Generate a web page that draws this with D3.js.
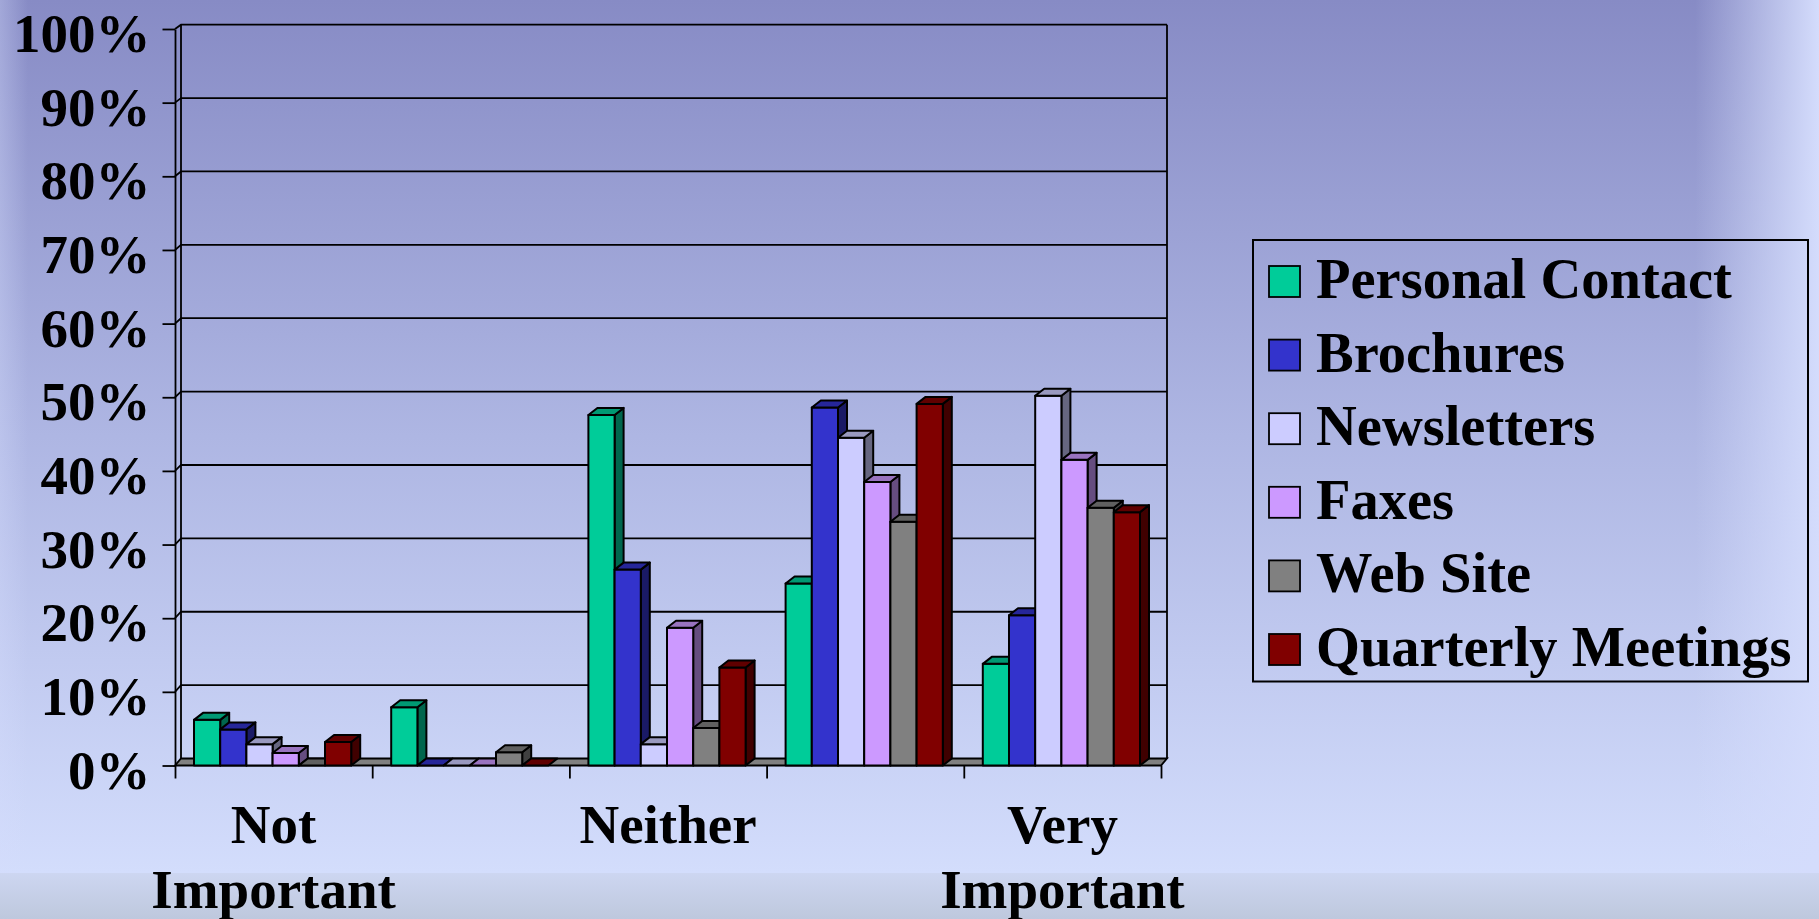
<!DOCTYPE html>
<html>
<head>
<meta charset="utf-8">
<style>
  body { margin: 0; }
  svg { display: block; }
  text {
    font-family: 'Liberation Serif', 'Times New Roman', serif;
    font-weight: bold;
    fill: #000;
  }
  .axis .tick line, .axis .domain { stroke: #000; stroke-width: 1.8; }
</style>
</head>
<body>
<svg width="1819" height="919"></svg>
<script src="https://d3js.org/d3.v7.min.js"></script>
<script>
// data (percent of respondents)
var categories = [["Not", "Important"], [], ["Neither"], [], ["Very", "Important"]];
var series = ["Personal Contact", "Brochures", "Newsletters", "Faxes", "Web Site", "Quarterly Meetings"];
var personalContact   = [6.2, 7.9, 47.6, 24.7, 13.8];
var brochures         = [4.9, 0, 26.6, 48.6, 20.4];
var newsletters       = [2.9, 0, 2.9, 44.5, 50.2];
var faxes             = [1.7, 0, 18.7, 38.5, 41.5];
var webSite           = [0, 1.8, 5.1, 33.1, 35.0];
var quarterlyMeetings = [3.2, 0, 13.3, 49.1, 34.4];
var yTicks = [0, 10, 20, 30, 40, 50, 60, 70, 80, 90, 100];

var values = [personalContact, brochures, newsletters, faxes, webSite, quarterlyMeetings];
var fronts = ["#00CC99", "#3333CC", "#CCCCFF", "#CC99FF", "#808080", "#800000"];

var svg = d3.select("svg"),
    W = +svg.attr("width"), H = +svg.attr("height");

// plot geometry: front plane and depth offset of the walls / bars
var left = 175, right = 1161, base = 765.5;
var wallDx = 6, wallDy = 7;
var barDx = 9, barDy = 7;

// background
var defs = svg.append("defs");
var bg = defs.append("linearGradient").attr("id", "bg").attr("x1", 0).attr("y1", 0).attr("x2", 0).attr("y2", 1);
bg.append("stop").attr("offset", 0).attr("stop-color", "#878bc5");
bg.append("stop").attr("offset", 0.5).attr("stop-color", "#aeb6e3");
bg.append("stop").attr("offset", 1).attr("stop-color", "#d3ddfc");
var bot = defs.append("linearGradient").attr("id", "bot").attr("x1", 0).attr("y1", 0).attr("x2", 0).attr("y2", 1);
bot.append("stop").attr("offset", 0).attr("stop-color", "#cdd6f1");
bot.append("stop").attr("offset", 1).attr("stop-color", "#bec8dd");
var edgeR = defs.append("linearGradient").attr("id", "edgeR");
edgeR.append("stop").attr("offset", 0).attr("stop-color", "#d4dcfc").attr("stop-opacity", 0);
edgeR.append("stop").attr("offset", 1).attr("stop-color", "#d4dcfc").attr("stop-opacity", 1);
var edgeL = defs.append("linearGradient").attr("id", "edgeL");
edgeL.append("stop").attr("offset", 0).attr("stop-color", "#d4dcfc").attr("stop-opacity", 0.35);
edgeL.append("stop").attr("offset", 1).attr("stop-color", "#d4dcfc").attr("stop-opacity", 0);

svg.append("rect").attr("width", W).attr("height", 873).attr("fill", "url(#bg)");
svg.append("rect").attr("y", 873).attr("width", W).attr("height", H - 873).attr("fill", "url(#bot)");
svg.append("rect").attr("x", 1695).attr("width", W - 1695).attr("height", 873).attr("fill", "url(#edgeR)");
svg.append("rect").attr("width", 28).attr("height", 873).attr("fill", "url(#edgeL)");

// scales
var y = d3.scaleLinear().domain([0, 100]).range([base, 29]);
var yBack = d3.scaleLinear().domain([0, 100]).range([base - wallDy, 24.7]);
var x0 = d3.scaleBand().domain(d3.range(categories.length)).range([left, right]);
var x1 = d3.scaleBand().domain(series).range([19, x0.bandwidth() - 21]);
var xb = d3.scaleLinear().domain([0, categories.length]).range([left, right]);

var g = svg.append("g");

// back wall gridlines and side wall edges
g.selectAll(".grid").data(yTicks.slice(1)).enter().append("path")
    .attr("fill", "none").attr("stroke", "#000").attr("stroke-width", 1.8)
    .attr("d", function(d) {
      return "M" + left + "," + y(d) + "L" + (left + wallDx) + "," + yBack(d) + "H" + (right + wallDx);
    });
g.append("path").attr("fill", "none").attr("stroke", "#000").attr("stroke-width", 1.8)
    .attr("d", "M" + (left + wallDx) + "," + yBack(0) + "V" + yBack(100)
      + "M" + (right + wallDx) + "," + yBack(0) + "V" + yBack(100));

// floor
g.append("path").attr("fill", "#808080").attr("stroke", "#000").attr("stroke-width", 1.8)
    .attr("d", "M" + left + "," + base + "H" + right + "L" + (right + wallDx) + "," + (base - wallDy)
      + "H" + (left + wallDx) + "Z");

// y axis on the front edge
g.append("g").attr("class", "axis")
    .attr("transform", "translate(" + left + ",0)")
    .call(d3.axisLeft(y).tickValues(yTicks).tickSize(12.5).tickSizeOuter(0).tickPadding(12)
      .tickFormat(function(d) { return d + "%"; }))
  .call(function(a) {
    a.selectAll("text").attr("font-size", 55).attr("dy", "0.41em")
      .style("font-family", "'Liberation Serif', serif").style("font-weight", "bold");
  });

// x axis ticks at category boundaries
g.append("g").attr("class", "axis")
    .attr("transform", "translate(0," + base + ")")
    .call(d3.axisBottom(xb).tickValues(d3.range(categories.length + 1)).tickSize(13).tickFormat(""))
  .call(function(a) { a.select(".domain").remove(); });

// category labels
var lab = g.selectAll(".cat").data(categories).enter().append("text")
    .attr("text-anchor", "middle").attr("font-size", 55);
lab.selectAll("tspan").data(function(d, i) { return d.map(function(t) { return {t: t, i: i}; }); })
  .enter().append("tspan")
    .attr("x", function(d) { return x0(d.i) + x0.bandwidth() / 2; })
    .attr("y", function(d, k) { return 843 + k * 65; })
    .text(function(d) { return d.t; });

// 3d columns
function shade(c, k) {
  var r = d3.rgb(c);
  return d3.rgb(r.r * k, r.g * k, r.b * k) + "";
}

var bars = [];
categories.forEach(function(c, i) {
  series.forEach(function(s, j) {
    bars.push({cat: i, key: s, value: values[j][i], color: fronts[j]});
  });
});

var bar = g.append("g").selectAll("g").data(bars).enter().append("g")
    .attr("stroke", "#000").attr("stroke-width", 2).attr("stroke-linejoin", "round");

bar.each(function(d) {
  var el = d3.select(this),
      xf = x0(d.cat) + x1(d.key), w = x1.bandwidth(),
      yt = y(d.value), yb = y(0);
  if (d.value > 0) {
    el.append("path").attr("fill", shade(d.color, 0.5))
      .attr("d", "M" + (xf + w) + "," + yt + "l" + barDx + "," + (-barDy) + "V" + (yb - barDy)
        + "l" + (-barDx) + "," + barDy + "Z");
    el.append("rect").attr("x", xf).attr("y", yt).attr("width", w).attr("height", yb - yt)
      .attr("fill", d.color);
  }
  el.append("path").attr("fill", shade(d.color, 0.75))
    .attr("d", "M" + xf + "," + yt + "l" + barDx + "," + (-barDy) + "h" + w + "l" + (-barDx) + "," + barDy + "Z");
});

// legend
var lg = svg.append("g");
lg.append("rect").attr("x", 1253).attr("y", 240).attr("width", 555).attr("height", 441.5)
    .attr("fill", "none").attr("stroke", "#000").attr("stroke-width", 2);
var item = lg.selectAll(".item").data(series).enter().append("g")
    .attr("transform", function(d, i) { return "translate(1269," + (266 + i * 73.6) + ")"; });
item.append("rect").attr("width", 31).attr("height", 31)
    .attr("fill", function(d, i) { return fronts[i]; })
    .attr("stroke", "#000").attr("stroke-width", 1.8);
item.append("text").attr("x", 47).attr("y", 32).attr("font-size", 56.5)
    .text(function(d) { return d; });
</script>
</body>
</html>
